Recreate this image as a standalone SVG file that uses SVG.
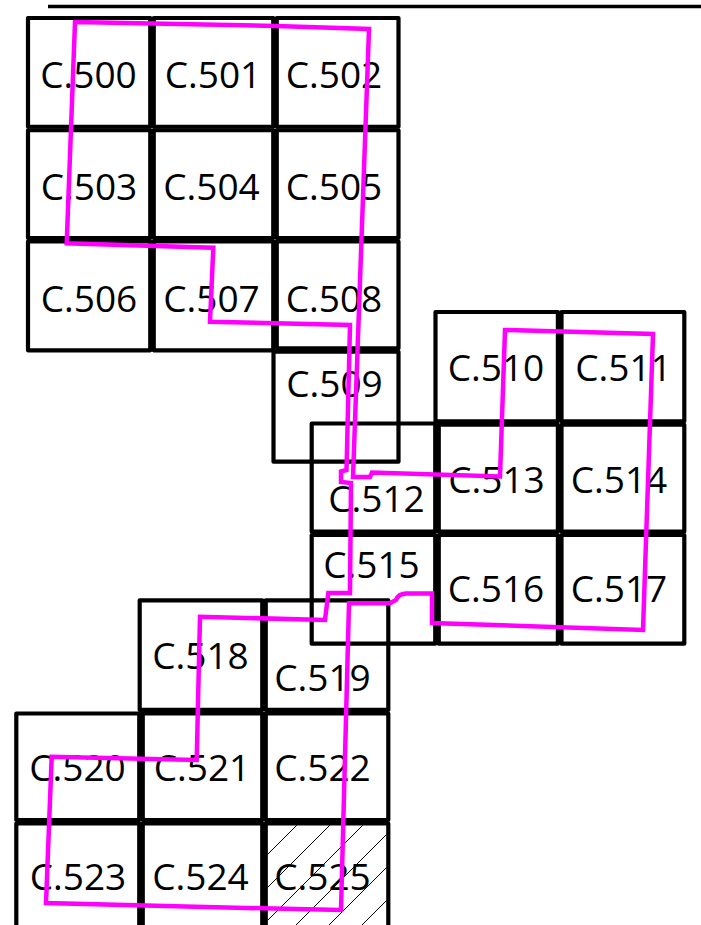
<svg xmlns="http://www.w3.org/2000/svg" width="701" height="925" viewBox="0 0 701 925">
<style>
.cell rect{fill:none;stroke:#000;stroke-width:4.2;stroke-linejoin:round}
.cell text{font-family:"Open Sans","Noto Sans",sans-serif;font-size:37px;text-anchor:middle;fill:#000}
.hatch line{stroke:#000;stroke-width:1}
.route{fill:none;stroke:#ff00ff;stroke-width:4.5;stroke-linejoin:miter}
</style>
<defs>
<clipPath id="clip525"><rect x="267.5" y="825.3" width="119" height="100"/></clipPath>
</defs>
<rect width="701" height="925" fill="#fff"/>
<line x1="48" y1="6.5" x2="701" y2="6.5" stroke="#000" stroke-width="3.5"/>

<g id="c500" class="cell"><rect x="28" y="18" width="122.25" height="108.75"/><text x="88.5" y="88">C.500</text></g>
<g id="c501" class="cell"><rect x="153.75" y="18" width="119.5" height="108.75"/><text x="213" y="88">C.501</text></g>
<g id="c502" class="cell"><rect x="276.75" y="18" width="121.75" height="108.75"/><text x="334" y="88">C.502</text></g>
<g id="c503" class="cell"><rect x="28" y="130.25" width="122.25" height="107.75"/><text x="89" y="200">C.503</text></g>
<g id="c504" class="cell"><rect x="153.75" y="130.25" width="119.5" height="107.75"/><text x="211.5" y="200">C.504</text></g>
<g id="c505" class="cell"><rect x="276.75" y="130.25" width="121.75" height="107.75"/><text x="334" y="200">C.505</text></g>
<g id="c506" class="cell"><rect x="28" y="241.5" width="122.25" height="108.8"/><text x="89" y="311.7">C.506</text></g>
<g id="c507" class="cell"><rect x="153.75" y="241.5" width="119.5" height="108.8"/><text x="211.5" y="311.7">C.507</text></g>
<g id="c508" class="cell"><rect x="276.75" y="241.5" width="121.75" height="106.75"/><text x="334" y="311.7">C.508</text></g>
<g id="c509" class="cell"><rect x="273.5" y="351.75" width="125" height="109.95"/><text x="334.5" y="397">C.509</text></g>

<g id="c510" class="cell"><rect x="435.5" y="312" width="122.4" height="109.25"/><text x="496" y="381">C.510</text></g>
<g id="c511" class="cell"><rect x="561.5" y="312" width="122.8" height="109.25"/><text x="623.5" y="381">C.511</text></g>
<g id="c512" class="cell"><rect x="311.7" y="423.5" width="123.55" height="108"/><text x="376.5" y="512">C.512</text></g>
<g id="c513" class="cell"><rect x="438.75" y="424.75" width="119.15" height="106.75"/><text x="496.5" y="493">C.513</text></g>
<g id="c514" class="cell"><rect x="561.5" y="424.75" width="122.8" height="106.75"/><text x="619" y="493">C.514</text></g>
<g id="c515" class="cell"><rect x="311.7" y="535" width="123.55" height="108.7"/><text x="371.5" y="578">C.515</text></g>
<g id="c516" class="cell"><rect x="438.75" y="535" width="119.15" height="108.7"/><text x="496" y="602">C.516</text></g>
<g id="c517" class="cell"><rect x="561.5" y="535" width="122.8" height="108.7"/><text x="619" y="602">C.517</text></g>

<g id="c518" class="cell"><rect x="139.7" y="600.3" width="122.55" height="109.6"/><text x="200.5" y="669">C.518</text></g>
<g id="c519" class="cell"><rect x="265.75" y="600.3" width="122.55" height="109.6"/><text x="322.5" y="691">C.519</text></g>
<g id="c520" class="cell"><rect x="16.3" y="713.5" width="122.95" height="106.5"/><text x="77.5" y="781">C.520</text></g>
<g id="c521" class="cell"><rect x="142.75" y="713.5" width="119.5" height="106.5"/><text x="202" y="781">C.521</text></g>
<g id="c522" class="cell"><rect x="265.75" y="713.5" width="122.55" height="106.5"/><text x="322.5" y="781">C.522</text></g>
<g id="c523" class="cell"><rect x="16.3" y="823.5" width="122.95" height="111.5"/><text x="78" y="890">C.523</text></g>
<g id="c524" class="cell"><rect x="142.75" y="823.5" width="119.5" height="111.5"/><text x="200.5" y="890">C.524</text></g>
<g id="c525" class="cell">
<g class="hatch" clip-path="url(#clip525)">
<line x1="322" y1="800" x2="202" y2="920"/>
<line x1="355" y1="800" x2="235" y2="920"/>
<line x1="388" y1="800" x2="258" y2="930"/>
<line x1="421" y1="800" x2="291" y2="930"/>
<line x1="454" y1="800" x2="324" y2="930"/>
<line x1="487" y1="800" x2="357" y2="930"/>
<line x1="520" y1="800" x2="390" y2="930"/>
</g>
<rect x="265.75" y="823.5" width="122.55" height="111.5"/><text x="322.5" y="890">C.525</text></g>

<g id="connectors">
<path class="route" d="M75 22 L276 26 L369 29 L353 477 L370 477 L372 472.5 L500 476.5 L505 330 L653 334 L643 630 L432 623 L432 593.5 L406 593.5 Q398 594 396 600 L390 603.3 L349 603.3 L341 910 L263 908.3 L46 903 L51.7 756.7 L196.7 760 L200 616.7 L325 620 L328.3 593 L350 593 L351 483 L341 482 L341 471.5 L346.5 470 L350 325 L210 321.7 L213.3 247.7 L66.7 243.3 Z"/>
</g>
</svg>
